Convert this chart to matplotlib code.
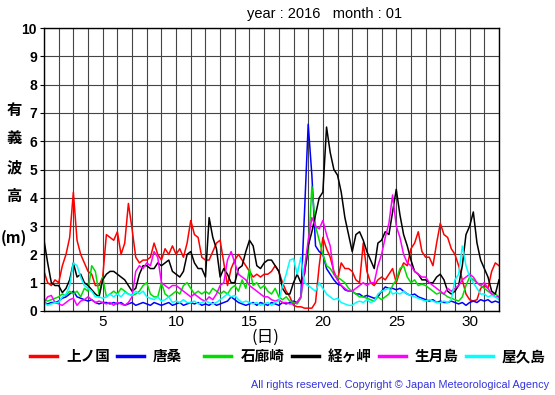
import numpy as np
import matplotlib.pyplot as plt
from matplotlib.lines import Line2D

plt.rcParams['font.family'] = ['Liberation Sans', 'Noto Sans CJK JP', 'DejaVu Sans']

# 6-hourly samples, Jan 1 00h .. Feb 1 00h (day 1.0 .. 32.0)
hours = np.arange(0, 31 * 24 + 1, 6)
days = 1 + hours / 24

kaminokuni = [
    1.4, 1.0, 0.9, 1.1,  1.0, 1.6, 2.0, 2.6,  4.2, 2.5, 2.0, 1.7,  1.4, 1.3, 0.9, 0.9,
    1.2, 2.7, 2.6, 2.5,  2.8, 2.0, 2.4, 3.8,  2.9, 1.9, 1.7, 1.8,  1.8, 1.9, 2.4, 2.0,
    1.8, 2.2, 2.0, 2.3,  2.0, 2.2, 1.9, 2.4,  3.2, 2.7, 2.6, 1.9,  1.8, 1.8, 2.1, 2.4,
    2.5, 1.7, 0.9, 1.5,  1.8, 2.0, 1.8, 1.6,  1.4, 1.2, 1.3, 1.2,  1.3, 1.3, 1.4, 1.6,
    1.4, 1.0, 0.7, 0.5,  0.2, 0.15, 0.15, 0.1,  0.1, 0.1, 0.3, 1.6,  2.6, 2.2, 1.9, 1.4,
    1.1, 1.7, 1.5, 1.5,  1.4, 1.1, 1.0, 2.4,  1.4, 1.0, 0.9, 1.1,  1.2, 1.1, 1.3, 1.5,
    1.0, 1.4, 1.7, 1.6,  2.2, 2.4, 2.8, 2.1,  1.9, 1.9, 1.6, 2.4,  3.1, 2.7, 2.6, 2.2,
    2.0, 1.6, 1.1, 0.6,  0.4, 0.35, 0.4, 0.8,  0.9, 0.8, 1.4, 1.7,  1.6]
karakuwa = [
    0.3, 0.25, 0.3, 0.3,  0.35, 0.45, 0.5, 0.6,  0.7, 0.5, 0.45, 0.4,  0.35, 0.4, 0.3, 0.25,
    0.3, 0.3, 0.25, 0.3,  0.25, 0.3, 0.2, 0.25,  0.3, 0.2, 0.25, 0.3,  0.25, 0.2, 0.3, 0.25,
    0.2, 0.25, 0.3, 0.2,  0.25, 0.3, 0.2, 0.25,  0.3, 0.25, 0.3, 0.2,  0.25, 0.2, 0.3, 0.2,
    0.25, 0.3, 0.35, 0.5,  0.4, 0.3, 0.25, 0.2,  0.25, 0.3, 0.2, 0.3,  0.25, 0.2, 0.3, 0.25,
    0.2, 0.3, 0.25, 0.3,  0.35, 0.3, 0.5, 3.5,  6.6, 4.8, 2.3, 2.1,  2.0, 1.5, 1.3, 1.1,
    0.95, 0.9, 0.75, 0.7,  0.7, 0.6, 0.6, 0.5,  0.55, 0.5, 0.45, 0.5,  0.7, 0.85, 0.8, 0.8,
    0.75, 0.8, 0.7, 0.6,  0.55, 0.6, 0.5, 0.45,  0.4, 0.35, 0.4, 0.3,  0.35, 0.3, 0.3, 0.35,
    0.3, 0.25, 0.3, 0.2,  0.3, 0.35, 0.3, 0.4,  0.35, 0.4, 0.3, 0.35,  0.3]
irozaki = [
    0.4, 0.35, 0.4, 0.45,  0.5, 0.6, 0.55, 0.7,  0.6, 0.7, 0.5, 0.8,  0.7, 1.6, 1.4, 0.6,
    1.2, 0.5, 0.6, 0.7,  0.6, 0.8, 0.7, 0.6,  0.55, 0.6, 0.7, 0.9,  1.0, 0.6, 0.5, 0.5,
    1.0, 0.6, 0.5, 0.6,  0.7, 0.6, 0.9, 1.0,  0.8, 0.6, 0.7, 0.6,  0.7, 0.6, 0.8, 0.7,
    0.6, 0.7, 0.6, 0.8,  0.9, 0.7, 1.1, 0.8,  1.5, 0.9, 1.0, 0.8,  0.9, 0.7, 0.6, 0.8,
    0.5, 0.4, 0.5, 0.35,  0.3, 0.25, 0.45, 1.5,  2.0, 4.4, 3.0, 2.5,  2.0, 1.6, 1.5, 1.3,
    1.2, 1.1, 1.0, 0.8,  0.7, 0.6, 0.5, 0.5,  0.45, 0.4, 0.35, 0.5,  0.4, 0.5, 0.6, 0.9,
    1.1, 1.5, 1.6, 1.2,  1.0, 1.1, 0.9, 0.95,  0.9, 0.8, 0.7, 0.6,  0.65, 0.6, 0.5, 0.45,
    0.4, 0.35, 0.5, 0.9,  1.2, 1.1, 1.0, 0.9,  0.8, 0.7, 0.6, 0.6,  0.5]
kyogamisaki = [
    2.5, 1.7, 1.0, 0.9,  0.9, 0.65, 0.8, 1.1,  1.7, 1.2, 1.3, 1.0,  0.9, 0.75, 0.6, 0.5,
    1.1, 1.3, 1.4, 1.4,  1.3, 1.2, 1.1, 0.9,  0.7, 0.8, 1.3, 1.6,  1.6, 1.5, 1.5, 1.7,
    1.6, 1.7, 1.8, 1.4,  1.3, 1.2, 1.4, 2.0,  2.1, 1.7, 1.5, 1.5,  1.2, 3.3, 2.6, 2.2,
    1.2, 1.5, 1.3, 1.0,  1.0, 1.5, 1.6, 2.1,  2.5, 2.3, 1.6, 1.5,  1.7, 1.8, 1.8, 1.6,
    1.4, 0.8, 0.6, 0.6,  1.0, 1.3, 1.0, 1.3,  2.3, 2.8, 3.4, 4.0,  4.2, 6.5, 5.6, 5.0,
    4.8, 4.2, 3.3, 2.7,  2.1, 2.7, 2.8, 2.5,  2.1, 1.8, 1.5, 2.4,  2.5, 2.8, 2.7, 3.5,
    4.3, 3.4, 2.7, 2.3,  1.8, 1.4, 1.3, 1.1,  1.1, 1.0, 1.0, 1.2,  1.3, 1.1, 0.7, 0.6,
    0.7, 0.9, 1.6, 2.7,  3.0, 3.5, 2.4, 1.8,  1.5, 1.2, 0.7, 0.6,  1.1]
ikitsukishima = [
    0.3, 0.5, 0.55, 0.3,  0.25, 0.2, 0.3, 0.4,  0.45, 0.2, 0.35, 0.4,  0.5, 0.4, 0.3, 0.35,
    0.3, 0.25, 0.3, 0.2,  0.3, 0.25, 0.2, 0.3,  0.5, 1.4, 1.6, 1.5,  1.7, 1.6, 2.1, 1.9,
    1.0, 0.9, 0.8, 0.9,  0.9, 0.8, 0.7, 0.6,  0.5, 0.6, 0.5, 0.4,  0.35, 0.5, 0.4, 0.6,
    0.9, 1.0, 1.8, 2.1,  1.7, 1.3, 1.2, 1.1,  0.9, 0.8, 0.7, 0.6,  0.5, 0.5, 0.4, 0.35,
    0.4, 0.3, 0.3, 0.25,  0.25, 0.3, 0.5, 1.5,  2.5, 3.3, 3.0, 2.9,  3.2, 2.7, 2.3, 1.3,
    1.1, 0.9, 0.8, 0.7,  0.7, 0.8, 0.9, 1.0,  0.9, 1.0, 1.0, 1.6,  2.0, 2.6, 3.1, 4.1,
    3.0, 2.6, 2.0, 1.7,  1.6, 1.4, 1.3, 1.2,  1.2, 1.0, 0.9, 0.8,  0.7, 0.6, 0.8, 0.7,
    0.8, 0.9, 1.1, 1.2,  1.3, 1.2, 1.0, 0.9,  1.0, 0.8, 0.6, 0.5,  0.5]
yakushima = [
    0.3, 0.2, 0.25, 0.3,  0.3, 0.5, 0.6, 0.9,  1.7, 1.6, 1.2, 0.9,  0.8, 0.7, 0.5, 0.5,
    0.45, 0.5, 0.6, 0.5,  0.6, 0.5, 0.65, 0.6,  0.55, 0.7, 0.6, 0.7,  0.5, 0.45, 0.4, 0.5,
    0.35, 0.4, 0.5, 0.3,  0.35, 0.3, 0.4, 0.3,  0.3, 0.35, 0.25, 0.3,  0.35, 0.3, 0.25, 0.3,
    0.4, 0.5, 0.6, 0.5,  0.55, 0.4, 0.3, 0.35,  0.3, 0.25, 0.3, 0.2,  0.25, 0.3, 0.2, 0.3,
    0.35, 0.9, 1.3, 1.8,  1.85, 1.3, 1.9, 1.0,  0.9, 0.8, 0.7, 1.0,  0.8, 0.6, 0.5, 0.4,
    0.45, 0.3, 0.25, 0.2,  0.2, 0.3, 0.35, 0.3,  0.4, 0.3, 0.35, 0.6,  0.7, 0.75, 0.8, 0.6,
    0.65, 0.6, 0.7, 0.6,  0.55, 0.5, 0.45, 0.4,  0.35, 0.4, 0.35, 0.3,  0.3, 0.35, 0.3, 0.4,
    1.1, 1.3, 2.3, 1.6,  1.2, 1.0, 0.8, 0.6,  0.6, 0.5, 0.55, 0.5,  0.4]

names = ['上ノ国', '唐桑', '石廊崎', '経ヶ岬', '生月島', '屋久島']
colors = ['#ff0000', '#0000ff', '#00dd00', '#000000', '#ff00ff', '#00ffff']
series = [kaminokuni, karakuwa, irozaki, kyogamisaki, ikitsukishima, yakushima]

W, H = 555, 395
fig = plt.figure(figsize=(W / 100, H / 100), dpi=100)
ax = fig.add_axes([44 / W, 1 - 311 / H, 455 / W, 283 / H])

for name, col, vals in zip(names, colors, series):
    ax.plot(days, vals, color=col, lw=1.1, label=name)

ax.set_xlim(1, 32)
ax.set_ylim(0, 10)
ax.set_xticks(np.arange(1, 33), minor=True)
ax.set_xticks([5, 10, 15, 20, 25, 30])
ax.set_yticks(range(11))
ax.grid(True, which='both', color='#444444', lw=0.8)
ax.set_axisbelow(True)
ax.tick_params(axis='x', which='both', length=0, labelsize=11, pad=3)
ax.tick_params(axis='y', length=3, labelsize=10, pad=2)
for lab in ax.get_yticklabels():
    lab.set_fontweight('bold')
for sp in ax.spines.values():
    sp.set_linewidth(1.0)

fig.text(325 / W, 1 - 14 / H, 'year : 2016   month : 01', ha='center', va='center', fontsize=10.5)

for i, ch in enumerate(['有', '義', '波', '高']):
    fig.text(14 / W, 1 - (110 + i * 28.5) / H, ch, ha='center', va='center',
             fontsize=11, fontweight='bold', family=['Noto Sans CJK JP'])
fig.text(14 / W, 1 - 238 / H, '(m)', ha='center', va='center', fontsize=11, fontweight='bold',
         family=['Noto Sans CJK JP'])
fig.text(265 / W, 1 - 337 / H, '(日)', ha='center', va='center', fontsize=12,
         family=['Noto Sans CJK JP'])

# legend laid out at even spacing like the original
for i, (name, col) in enumerate(zip(names, colors)):
    x0 = 30 + i * 87.2
    fig.add_artist(Line2D([x0 / W, (x0 + 27) / W], [1 - 356 / H] * 2, color=col, lw=2.5))
    fig.text((x0 + 36) / W, 1 - 356 / H, name, ha='left', va='center', fontsize=10.5,
             fontweight='bold', family=['Noto Sans CJK JP'])

fig.text(549 / W, 1 - 385 / H, 'All rights reserved. Copyright © Japan Meteorological Agency',
         ha='right', va='center', fontsize=7.8, color='#3333dd')

fig.savefig('out.png', dpi=100)
